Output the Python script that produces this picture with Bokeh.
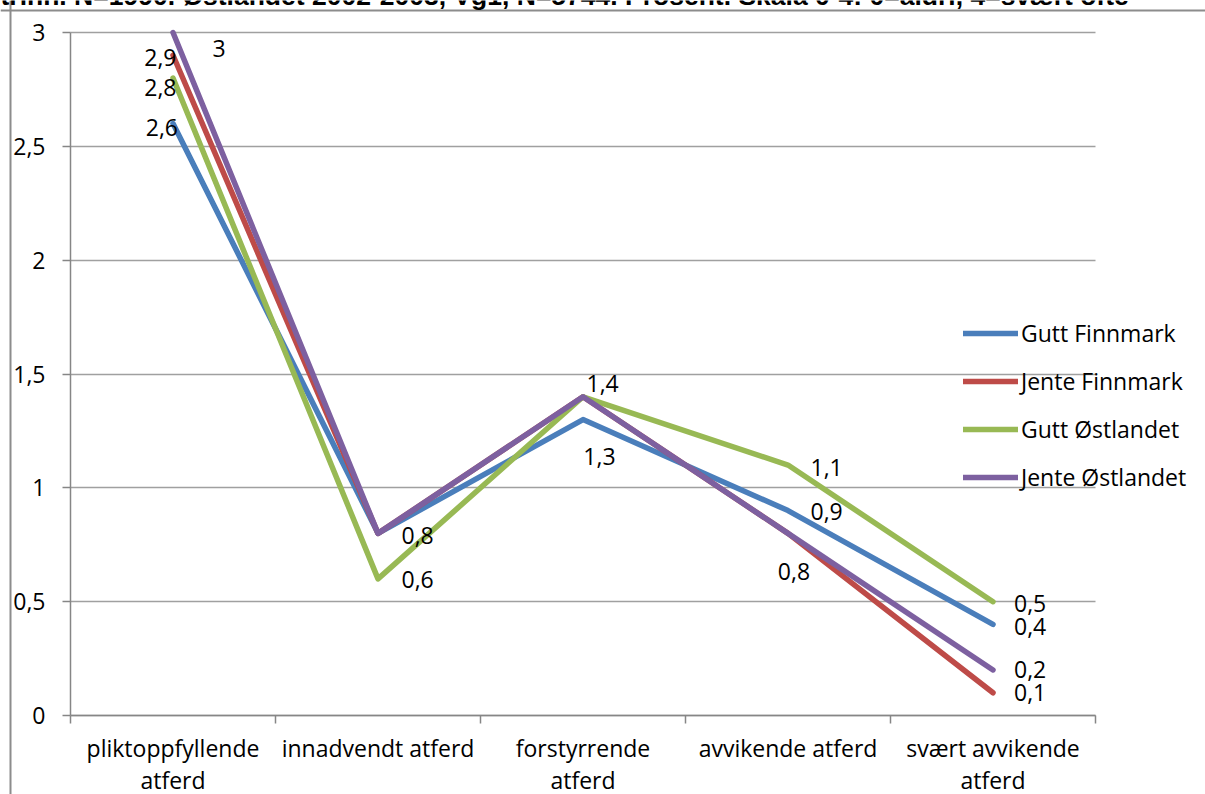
from bokeh.plotting import figure
from bokeh.models import (ColumnDataSource, Range1d, FixedTicker, Legend, LegendItem,
                          Label, Span, Grid)
from bokeh.core.properties import value
from bokeh.embed import file_html
from bokeh.resources import INLINE

# ---- data ----
categories = ["pliktoppfyllende atferd", "innadvendt atferd", "forstyrrende atferd",
              "avvikende atferd", "svært avvikende atferd"]
category_labels = ["pliktoppfyllende\natferd", "innadvendt atferd", "forstyrrende\natferd",
                   "avvikende atferd", "svært avvikende\natferd"]
series_names = ["Gutt Finnmark", "Jente Finnmark", "Gutt Østlandet", "Jente Østlandet"]
gutt_finnmark = [2.6, 0.8, 1.3, 0.9, 0.4]
jente_finnmark = [2.9, 0.8, 1.4, 0.8, 0.1]
gutt_ostlandet = [2.8, 0.6, 1.4, 1.1, 0.5]
jente_ostlandet = [3.0, 0.8, 1.4, 0.8, 0.2]
y_ticks = [0, 0.5, 1, 1.5, 2, 2.5, 3]
title_text = "trinn. N=1990. Østlandet 2002-2003, Vg1, N=5744. Prosent. Skala 0-4: 0=aldri, 4=svært ofte"

series_values = [gutt_finnmark, jente_finnmark, gutt_ostlandet, jente_ostlandet]
colors = ["#4A7EBB", "#BE4B48", "#98B954", "#7D60A0"]

# which data points carry a value label: (series index, category index)
labelled = [(0, 0), (2, 0), (1, 0), (3, 0),
            (3, 1), (2, 1),
            (3, 2), (0, 2),
            (2, 3), (0, 3), (3, 3),
            (2, 4), (0, 4), (3, 4), (1, 4)]
# label styling: (x offset px, y offset px, alignment)
label_style = [(5, 4, "right"), (3.5, 9.5, "right"), (3.5, 2, "right"), (39.5, 16, "left"),
               (23.5, 2, "left"), (23.5, 1, "left"),
               (3.5, -13, "left"), (16.5, 37, "center"),
               (22.5, 2, "left"), (22.5, 1, "left"), (6, 38, "center"),
               (21, 2, "left"), (21, 2, "left"), (21, 0, "left"), (21, 0, "left")]

FONT = "Open Sans"
FS = "23px"

W, H = 1205, 794
PL, PR, PT, PB = 70, 1095, 32, 715   # plot-area edges in the page
n_cat = len(categories)
xs = [i + 0.5 for i in range(n_cat)]

ux = (PR - PL) / n_cat            # px per category
uy = (PB - PT) / 3.0              # px per unit value
x_range = Range1d(-PL / ux, (W - PL) / ux)
y_range = Range1d(-(H - PB) / uy, 3.0 + PT / uy)

p = figure(width=W, height=H, x_range=x_range, y_range=y_range,
           output_backend="svg", toolbar_location=None,
           min_border_left=0, min_border_right=0, min_border_top=0, min_border_bottom=0)
p.background_fill_color = "white"
p.border_fill_color = "white"
p.outline_line_color = None

renderers = []
for name, vals, col in zip(series_names, series_values, colors):
    r = p.line(xs, vals, line_color=col, line_width=5.5, line_join="round", line_cap="round")
    renderers.append(r)

# value labels
lx, ly, lt, ldx, ldy, lal = [], [], [], [], [], []
for (si, ci), (dx, dy, al) in zip(labelled, label_style):
    v = series_values[si][ci]
    lx.append(xs[ci]); ly.append(v)
    lt.append(("%g" % v).replace(".", ","))
    ldx.append(dx); ldy.append(dy); lal.append(al)
lsrc = ColumnDataSource(dict(x=lx, y=ly, t=lt, dx=ldx, dy=ldy, al=lal))
p.text(x="x", y="y", text="t", x_offset="dx", y_offset="dy", text_align="al",
       text_baseline="middle", text_font=value(FONT), text_font_size=FS,
       text_color="black", source=lsrc)

# axes (drawn at fixed positions inside the canvas)
xa = p.xaxis[0]
xa.fixed_location = 0
xa.bounds = (0, n_cat)
xa.ticker = FixedTicker(ticks=xs, minor_ticks=list(range(n_cat + 1)))
xa.major_label_overrides = {x: lab for x, lab in zip(xs, category_labels)}
xa.major_tick_line_color = None
xa.major_tick_out = 0
xa.major_tick_in = 0
xa.minor_tick_out = 8
xa.minor_tick_in = 0
xa.minor_tick_line_color = "#868686"
xa.minor_tick_line_width = 1.5
xa.axis_line_color = "#868686"
xa.axis_line_width = 1.5
xa.major_label_text_font = FONT
xa.major_label_text_font_size = FS
xa.major_label_text_color = "black"
xa.major_label_text_line_height = 1.0
xa.major_label_standoff = 8

ya = p.yaxis[0]
ya.fixed_location = 0
ya.bounds = (0, 3)
ya.ticker = FixedTicker(ticks=y_ticks, minor_ticks=[])
ya.major_label_overrides = {t: ("%g" % t).replace(".", ",") for t in y_ticks}
ya.major_tick_out = 8
ya.major_tick_in = 0
ya.major_tick_line_color = "#868686"
ya.major_tick_line_width = 1.5
ya.axis_line_color = "#868686"
ya.axis_line_width = 1.5
ya.major_label_text_font = FONT
ya.major_label_text_font_size = FS
ya.major_label_text_color = "black"
ya.major_label_standoff = 17

p.xgrid.grid_line_color = None
if "cross_bounds" in Grid.properties():
    p.ygrid.ticker = FixedTicker(ticks=y_ticks)
    p.ygrid.cross_bounds = (0, n_cat)
    p.ygrid.grid_line_color = "#A0A0A0"
    p.ygrid.grid_line_width = 1.5
else:
    p.ygrid.grid_line_color = None
    p.segment(x0=[0] * len(y_ticks), x1=[n_cat] * len(y_ticks), y0=y_ticks, y1=y_ticks,
              line_color="#A0A0A0", line_width=1.5, level="underlay")

# legend
items = [LegendItem(label=n, renderers=[r]) for n, r in zip(series_names, renderers)]
legend = Legend(items=items, location=(963, H - 493), orientation="vertical",
                glyph_width=55, glyph_height=30, label_height=30, spacing=16,
                label_standoff=3, padding=0, margin=0,
                label_text_font=FONT, label_text_font_size=FS, label_text_color="black",
                border_line_color=None, background_fill_alpha=0)
p.add_layout(legend, "center")

# chart-area border (left and top edges) and cut-off caption
left_edge = Span(location=10, location_units="screen", dimension="height",
                 line_color="#8C8C8C", line_width=2)
top_edge = Span(location=H - 10, location_units="screen", dimension="width",
                line_color="#8C8C8C", line_width=2)
p.add_layout(left_edge)
p.add_layout(top_edge)
cap = Label(x=0, y=H + 5, x_units="screen", y_units="screen", text=title_text,
            text_font="Liberation Sans", text_font_style="bold", text_font_size="26.5px",
            text_baseline="alphabetic", text_align="left", text_color="black")
p.add_layout(cap)

open("out.html", "w").write(file_html(p, INLINE))
